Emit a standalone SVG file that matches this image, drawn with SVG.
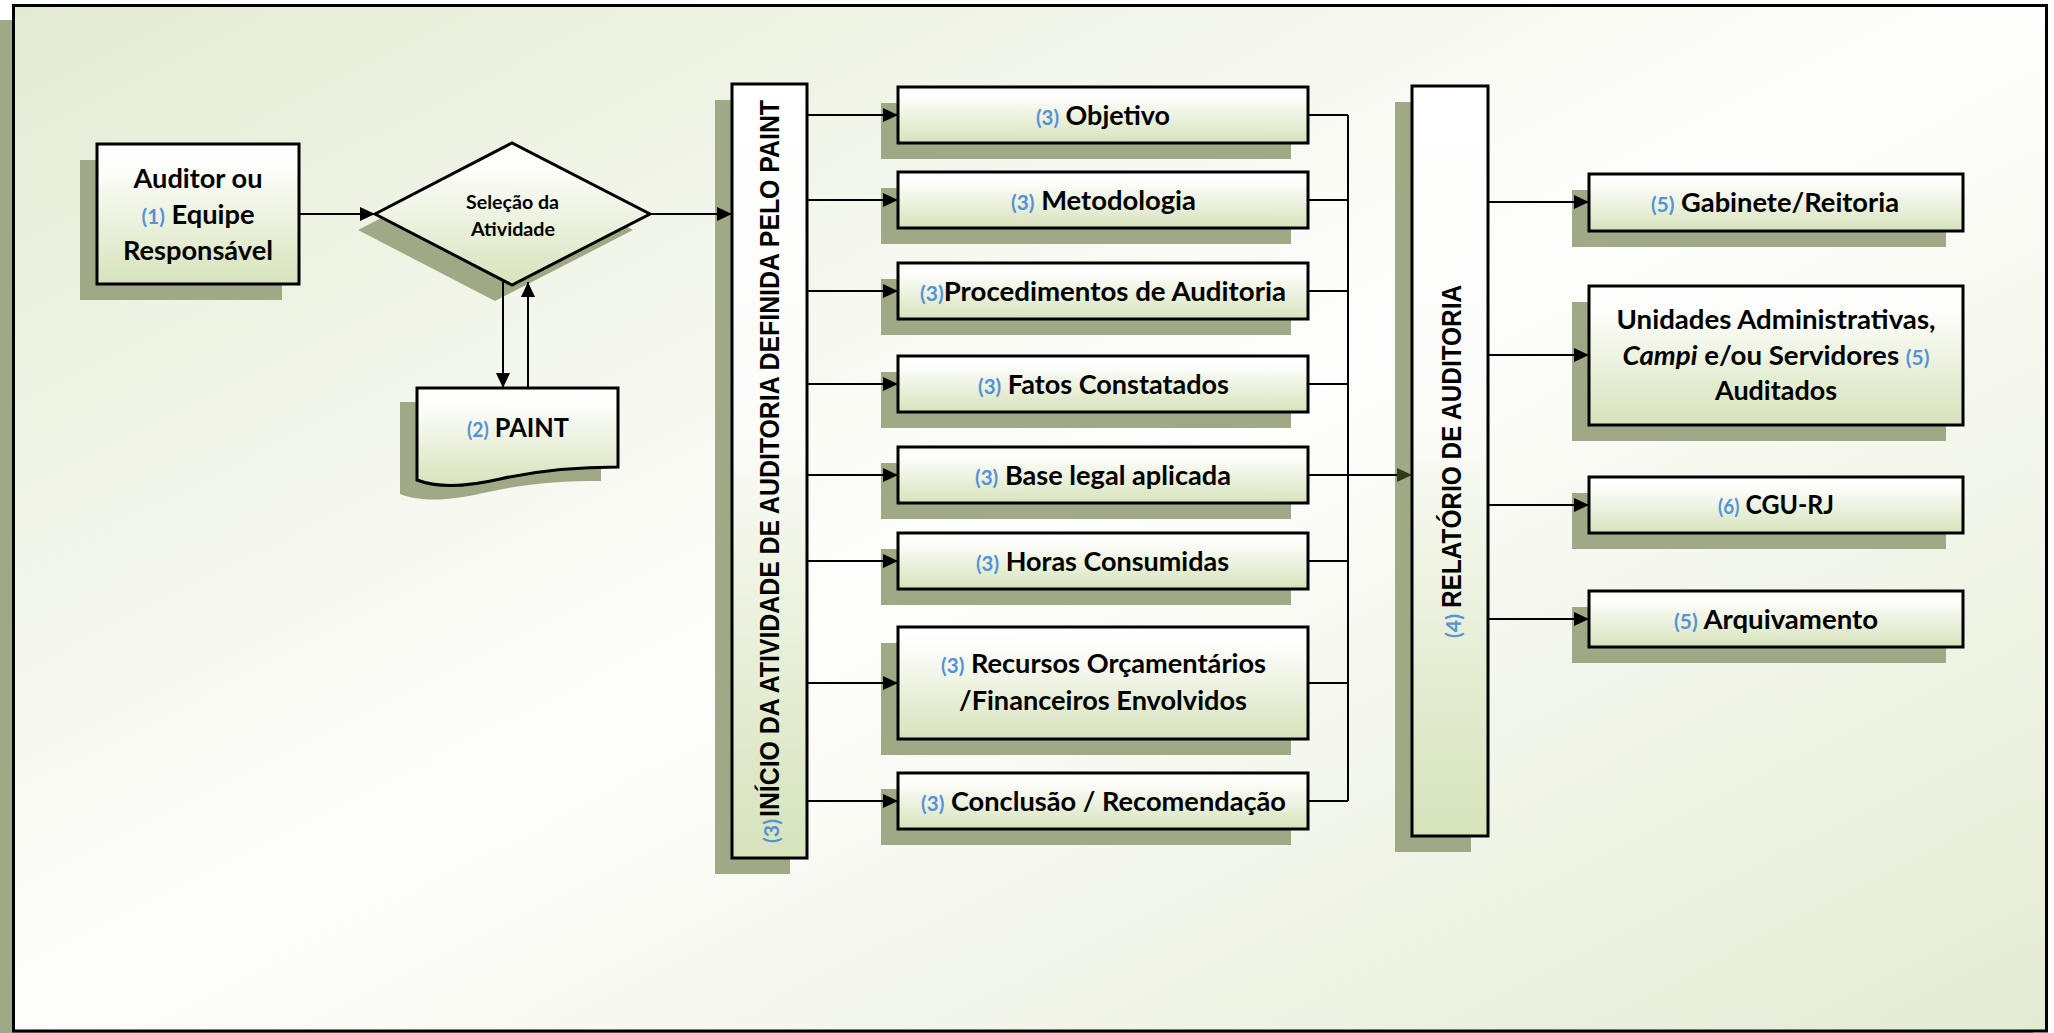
<svg xmlns="http://www.w3.org/2000/svg" width="2054" height="1033" viewBox="0 0 2054 1033">
  <defs>
    <linearGradient id="bg" x1="0" y1="0" x2="1" y2="1">
      <stop offset="0" stop-color="#e4ebd3"/>
      <stop offset="0.5" stop-color="#fefefc"/>
      <stop offset="1" stop-color="#e4ebd3"/>
    </linearGradient>
    <linearGradient id="boxFill" x1="0" y1="0" x2="0" y2="1">
      <stop offset="0" stop-color="#ffffff"/>
      <stop offset="0.2" stop-color="#fcfdf9"/>
      <stop offset="1" stop-color="#d6e3bb"/>
    </linearGradient>
    <linearGradient id="barFill" x1="0" y1="0" x2="0" y2="1">
      <stop offset="0" stop-color="#ffffff"/>
      <stop offset="0.45" stop-color="#fbfcf8"/>
      <stop offset="1" stop-color="#d6e3bb"/>
    </linearGradient>
    <marker id="ah" viewBox="0 0 15 14" refX="15" refY="7" markerWidth="15" markerHeight="14" markerUnits="userSpaceOnUse" orient="auto">
      <path d="M0,0 L15,7 L0,14 z" fill="#000"/>
    </marker>
    <marker id="ahDark" viewBox="0 0 15 14" refX="15" refY="7" markerWidth="15" markerHeight="14" markerUnits="userSpaceOnUse" orient="auto">
      <path d="M0,0 L15,7 L0,14 z" fill="#2e3b1d"/>
    </marker>
    <style>
      .shadow { fill: #9fa986; }
      .box { fill: url(#boxFill); stroke: #000; stroke-width: 3; }
      .bar { fill: url(#barFill); stroke: #000; stroke-width: 3; }
      .lbl { font-family: Lato, "Liberation Sans", Arial, sans-serif; font-weight: 700; font-size: 27px; fill: #000; text-anchor: middle; }
      .small { font-size: 19.5px; }
      .num { fill: #5592d8; font-size: 20.5px; }
      .cap { font-family: "Liberation Sans", Arial, sans-serif; font-weight: 700; font-size: 27px; fill: #000; }
      .numv { font-family: Lato, "Liberation Sans", Arial, sans-serif; font-weight: 700; font-size: 20.5px; fill: #5592d8; }
      .conn { fill: none; stroke: #000; stroke-width: 2; }
      .arrow { marker-end: url(#ah); }
    </style>
  </defs>

  <!-- page frame with its drop shadow -->
  <g id="frame">
    <rect class="shadow" x="0" y="20" width="2033" height="1030"/>
    <rect x="13.5" y="5.5" width="2033" height="1025.5" fill="url(#bg)" stroke="#000" stroke-width="3"/>
  </g>

  <!-- left part: responsible team, selection, PAINT -->
  <g id="auditor">
    <rect class="shadow" x="80" y="160" width="202" height="140"/>
    <rect class="box" x="97" y="144" width="202" height="140"/>
    <text class="lbl" x="198" y="188" textLength="129" lengthAdjust="spacingAndGlyphs">Auditor ou</text>
    <text class="lbl" x="198" y="224" textLength="113" lengthAdjust="spacingAndGlyphs"><tspan class="num">(1)</tspan> Equipe</text>
    <text class="lbl" x="198" y="260" textLength="150" lengthAdjust="spacingAndGlyphs">Responsável</text>
  </g>

  <g id="selecao">
    <polygon class="shadow" points="358,230 495,159 633,230 495,301"/>
    <polygon class="box" points="375,214 512,143 650,214 512,285"/>
    <text class="lbl small" x="512.5" y="209" textLength="93" lengthAdjust="spacingAndGlyphs">Seleção da</text>
    <text class="lbl small" x="513" y="236" textLength="84" lengthAdjust="spacingAndGlyphs">Atividade</text>
  </g>

  <g id="paint">
    <path class="shadow" transform="translate(-17,14)" d="M417,388 H618 V467 C575,467 540,470 500,479 C470,486 440,489 417,480 Z"/>
    <path class="box" d="M417,388 H618 V467 C575,467 540,470 500,479 C470,486 440,489 417,480 Z"/>
    <text class="lbl" x="518" y="437" textLength="102" lengthAdjust="spacingAndGlyphs"><tspan class="num">(2)</tspan> PAINT</text>
  </g>

  <!-- start of the audit activity -->
  <g id="inicio">
    <rect class="shadow" x="715" y="100" width="75" height="774"/>
    <rect class="bar" x="732" y="84" width="75" height="774"/>
    <text class="numv" transform="translate(779,843) rotate(-90)" textLength="24" lengthAdjust="spacingAndGlyphs">(3)</text>
    <text class="cap" transform="translate(779,817) rotate(-90)" textLength="717" lengthAdjust="spacingAndGlyphs">INÍCIO DA ATIVIDADE DE AUDITORIA DEFINIDA PELO PAINT</text>
  </g>

  <!-- audit items -->
  <g id="objetivo">
    <rect class="shadow" x="881" y="103" width="410" height="56"/>
    <rect class="box" x="898" y="87" width="410" height="56"/>
    <text class="lbl" x="1103" y="125" textLength="134" lengthAdjust="spacingAndGlyphs"><tspan class="num">(3)</tspan> Objetivo</text>
  </g>
  <g id="metodologia">
    <rect class="shadow" x="881" y="188" width="410" height="56"/>
    <rect class="box" x="898" y="172" width="410" height="56"/>
    <text class="lbl" x="1103.5" y="210" textLength="185" lengthAdjust="spacingAndGlyphs"><tspan class="num">(3)</tspan> Metodologia</text>
  </g>
  <g id="procedimentos">
    <rect class="shadow" x="881" y="279" width="410" height="56"/>
    <rect class="box" x="898" y="263" width="410" height="56"/>
    <text class="lbl" x="1103" y="301" textLength="366" lengthAdjust="spacingAndGlyphs"><tspan class="num">(3)</tspan>Procedimentos de Auditoria</text>
  </g>
  <g id="fatos">
    <rect class="shadow" x="881" y="372" width="410" height="56"/>
    <rect class="box" x="898" y="356" width="410" height="56"/>
    <text class="lbl" x="1103.5" y="394" textLength="251" lengthAdjust="spacingAndGlyphs"><tspan class="num">(3)</tspan> Fatos Constatados</text>
  </g>
  <g id="base-legal">
    <rect class="shadow" x="881" y="463" width="410" height="56"/>
    <rect class="box" x="898" y="447" width="410" height="56"/>
    <text class="lbl" x="1103" y="485" textLength="256" lengthAdjust="spacingAndGlyphs"><tspan class="num">(3)</tspan> Base legal aplicada</text>
  </g>
  <g id="horas">
    <rect class="shadow" x="881" y="549" width="410" height="56"/>
    <rect class="box" x="898" y="533" width="410" height="56"/>
    <text class="lbl" x="1102.5" y="571" textLength="253" lengthAdjust="spacingAndGlyphs"><tspan class="num">(3)</tspan> Horas Consumidas</text>
  </g>
  <g id="recursos">
    <rect class="shadow" x="881" y="643" width="410" height="112"/>
    <rect class="box" x="898" y="627" width="410" height="112"/>
    <text class="lbl" x="1103.5" y="673" textLength="325" lengthAdjust="spacingAndGlyphs"><tspan class="num">(3)</tspan> Recursos Orçamentários</text>
    <text class="lbl" x="1103" y="710" textLength="288" lengthAdjust="spacingAndGlyphs">/Financeiros Envolvidos</text>
  </g>
  <g id="conclusao">
    <rect class="shadow" x="881" y="789" width="410" height="56"/>
    <rect class="box" x="898" y="773" width="410" height="56"/>
    <text class="lbl" x="1103.5" y="811" textLength="365" lengthAdjust="spacingAndGlyphs"><tspan class="num">(3)</tspan> Conclusão / Recomendação</text>
  </g>

  <!-- audit report -->
  <g id="relatorio">
    <rect class="shadow" x="1395" y="102" width="76" height="750"/>
    <rect class="bar" x="1412" y="86" width="76" height="750"/>
    <text class="numv" transform="translate(1461,638) rotate(-90)" textLength="24" lengthAdjust="spacingAndGlyphs">(4)</text>
    <text class="cap" transform="translate(1461,608) rotate(-90)" textLength="323" lengthAdjust="spacingAndGlyphs">RELATÓRIO DE AUDITORIA</text>
  </g>

  <!-- report recipients -->
  <g id="gabinete">
    <rect class="shadow" x="1572" y="190" width="374" height="57"/>
    <rect class="box" x="1589" y="174" width="374" height="57"/>
    <text class="lbl" x="1775" y="212" textLength="248" lengthAdjust="spacingAndGlyphs"><tspan class="num">(5)</tspan> Gabinete/Reitoria</text>
  </g>
  <g id="unidades">
    <rect class="shadow" x="1572" y="302" width="374" height="139"/>
    <rect class="box" x="1589" y="286" width="374" height="139"/>
    <text class="lbl" x="1776" y="329" textLength="319" lengthAdjust="spacingAndGlyphs">Unidades Administrativas,</text>
    <text class="lbl" x="1776" y="365" textLength="307" lengthAdjust="spacingAndGlyphs"><tspan font-style="italic">Campi</tspan> e/ou Servidores <tspan class="num">(5)</tspan></text>
    <text class="lbl" x="1776" y="400" textLength="122" lengthAdjust="spacingAndGlyphs">Auditados</text>
  </g>
  <g id="cgu">
    <rect class="shadow" x="1572" y="493" width="374" height="56"/>
    <rect class="box" x="1589" y="477" width="374" height="56"/>
    <text class="lbl" x="1776" y="514" textLength="116" lengthAdjust="spacingAndGlyphs"><tspan class="num">(6)</tspan> CGU-RJ</text>
  </g>
  <g id="arquivamento">
    <rect class="shadow" x="1572" y="607" width="374" height="56"/>
    <rect class="box" x="1589" y="591" width="374" height="56"/>
    <text class="lbl" x="1776" y="629" textLength="204" lengthAdjust="spacingAndGlyphs"><tspan class="num">(5)</tspan> Arquivamento</text>
  </g>

  <!-- connectors -->
  <g id="connectors">
    <path class="conn arrow" d="M299,214 H375"/>
    <path class="conn arrow" d="M650,214 H732"/>
    <path class="conn arrow" d="M503,281 V388"/>
    <path class="conn arrow" d="M528,388 V282"/>

    <path class="conn arrow" d="M807,115 H898"/>
    <path class="conn arrow" d="M807,200 H898"/>
    <path class="conn arrow" d="M807,291 H898"/>
    <path class="conn arrow" d="M807,384 H898"/>
    <path class="conn arrow" d="M807,475 H898"/>
    <path class="conn arrow" d="M807,561 H898"/>
    <path class="conn arrow" d="M807,683 H898"/>
    <path class="conn arrow" d="M807,801 H898"/>

    <path class="conn" d="M1308,115 H1348 M1308,200 H1348 M1308,291 H1348 M1308,384 H1348 M1308,561 H1348 M1308,683 H1348 M1308,801 H1348 M1348,115 V801"/>
    <path class="conn" d="M1308,475 H1397"/>
    <path class="conn" d="M1348,475 H1412" marker-end="url(#ahDark)"/>

    <path class="conn arrow" d="M1488,202 H1589"/>
    <path class="conn arrow" d="M1488,355 H1589"/>
    <path class="conn arrow" d="M1488,505 H1589"/>
    <path class="conn arrow" d="M1488,619 H1589"/>
  </g>
</svg>
